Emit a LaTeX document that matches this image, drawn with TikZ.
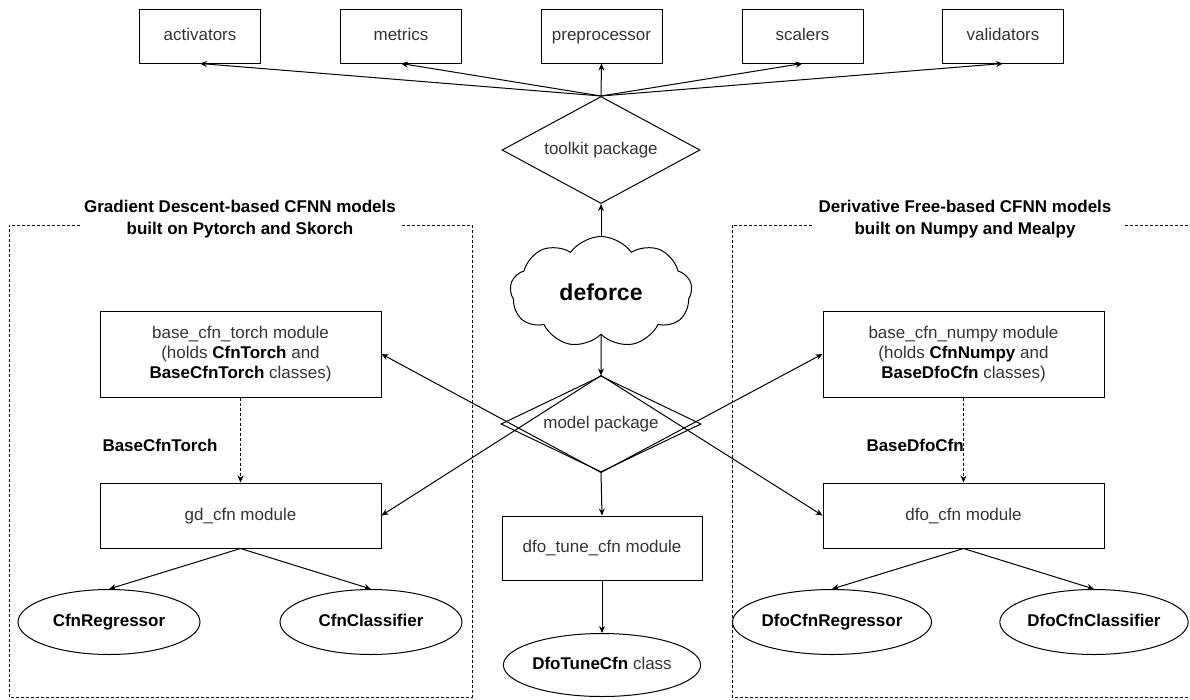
\documentclass[tikz,border=0pt]{standalone}
\usepackage{fontspec}
\setmainfont{Liberation Sans}
\usetikzlibrary{shapes.geometric,shapes.symbols,arrows.meta}
\definecolor{txt}{HTML}{333333}
\newcommand\bkw[1]{{\color{black}\bfseries #1}}
\tikzset{
  every node/.style={font=\fontsize{17}{20}\selectfont, text=txt},
  box/.style={draw, rectangle, inner sep=0pt, align=center},
  one/.style={text height=12.5pt, text depth=3.5pt},
  dia/.style={draw, diamond, aspect=2, inner sep=0pt, one},
  ell/.style={draw, ellipse, minimum width=182pt, minimum height=65pt, inner sep=0pt, one,
              font=\fontsize{17}{20}\selectfont\bfseries, text=black},
  arr/.style={-{Stealth[length=7pt,width=6pt]}},
  grp/.style={dash pattern=on 3pt off 2pt, line width=0.8pt},
  ttl/.style={font=\fontsize{17}{22}\selectfont\bfseries, text=black, align=center},
  lbl/.style={font=\fontsize{17}{20}\selectfont\bfseries, text=black, anchor=west, inner sep=0pt},
}
\begin{document}
\begin{tikzpicture}[x=1pt, y=-1pt, line width=1pt]
\useasboundingbox (0,0) rectangle (1190,699);

% group boxes
\draw[grp] (80,225) -- (9,225) -- (9,697) -- (472,697) -- (472,225) -- (400,225);
\draw[grp] (812,225) -- (732,225) -- (732,697) -- (1190,697);
\draw[grp] (1125,225) -- (1190,225);
\node[ttl] (tl) at (240,219) {Gradient Descent-based CFNN models\\built on Pytorch and Skorch};
\node[ttl] (tr) at (965,219) {Derivative Free-based CFNN models\\built on Numpy and Mealpy};

% top boxes
\foreach \n/\x/\t in {act/200/activators, met/401/metrics, pre/601.5/preprocessor, sca/802.5/scalers, val/1003/validators}
  \node[box, one, minimum width=121pt, minimum height=54pt] (\n) at (\x,36) {\t};

% diamonds and cloud
\node[dia, minimum width=198pt, minimum height=107pt] (toolkit) at (601,150) {toolkit package};
\node[draw, cloud, cloud puffs=9, cloud puff arc=110, aspect=1.65, minimum width=182pt,
      minimum height=111pt, inner sep=0pt, font=\fontsize{23}{26}\selectfont\bfseries, text=black]
      (cloud) at (601,292) {deforce};
\node[dia, minimum width=200pt, minimum height=96pt] (model) at (601,424) {model package};

% left side
\node[box, minimum width=281pt, minimum height=86pt] (bct) at (240.5,354)
  {base\_cfn\_torch module\\(holds \bkw{CfnTorch} and\\\bkw{BaseCfnTorch} classes)};
\node[box, one, minimum width=281pt, minimum height=65pt] (gd) at (240.5,515.5) {gd\_cfn module};
\node[lbl] (lblt) at (102,445) {BaseCfnTorch};
\node[ell] (creg) at (109,622) {CfnRegressor};
\node[ell] (ccls) at (371,622) {CfnClassifier};

% right side
\node[box, minimum width=281pt, minimum height=86pt] (bcn) at (963.5,354)
  {base\_cfn\_numpy module\\(holds \bkw{CfnNumpy} and\\\bkw{BaseDfoCfn} classes)};
\node[box, one, minimum width=281pt, minimum height=65pt] (dfo) at (963.5,515.5) {dfo\_cfn module};
\node[lbl] (lbln) at (866,445) {BaseDfoCfn};
\node[ell] (dreg) at (832,622) {DfoCfnRegressor};
\node[ell] (dcls) at (1094,622) {DfoCfnClassifier};

% middle
\node[box, one, minimum width=200pt, minimum height=64pt] (tune) at (602,548) {dfo\_tune\_cfn module};
\node[ell, minimum width=181pt, minimum height=63pt] (tunec) at (602,665)
  {DfoTuneCfn \textmd{\color{txt}class}};

% connectors
\foreach \n in {act,met,pre,sca,val}
  \draw[arr] (toolkit.north) -- (\n.south);
\draw[arr] (cloud.north) -- (toolkit.south);
\draw[arr] (cloud.south) -- (model.north);
\draw[arr] (model.south) -- (bct.east);
\draw[arr] (model.north) -- (gd.east);
\draw[arr] (model.south) -- (bcn.west);
\draw[arr] (model.north) -- (dfo.west);
\draw[arr] (model.south) -- (tune.north);
\draw[arr] (tune.south) -- (tunec.north);
\draw[arr, dash pattern=on 3pt off 2pt] (bct.south) -- (gd.north);
\draw[arr, dash pattern=on 3pt off 2pt] (bcn.south) -- (dfo.north);
\draw[arr] (gd.south) -- (creg.north);
\draw[arr] (gd.south) -- (ccls.north);
\draw[arr] (dfo.south) -- (dreg.north);
\draw[arr] (dfo.south) -- (dcls.north);
\end{tikzpicture}
\end{document}
